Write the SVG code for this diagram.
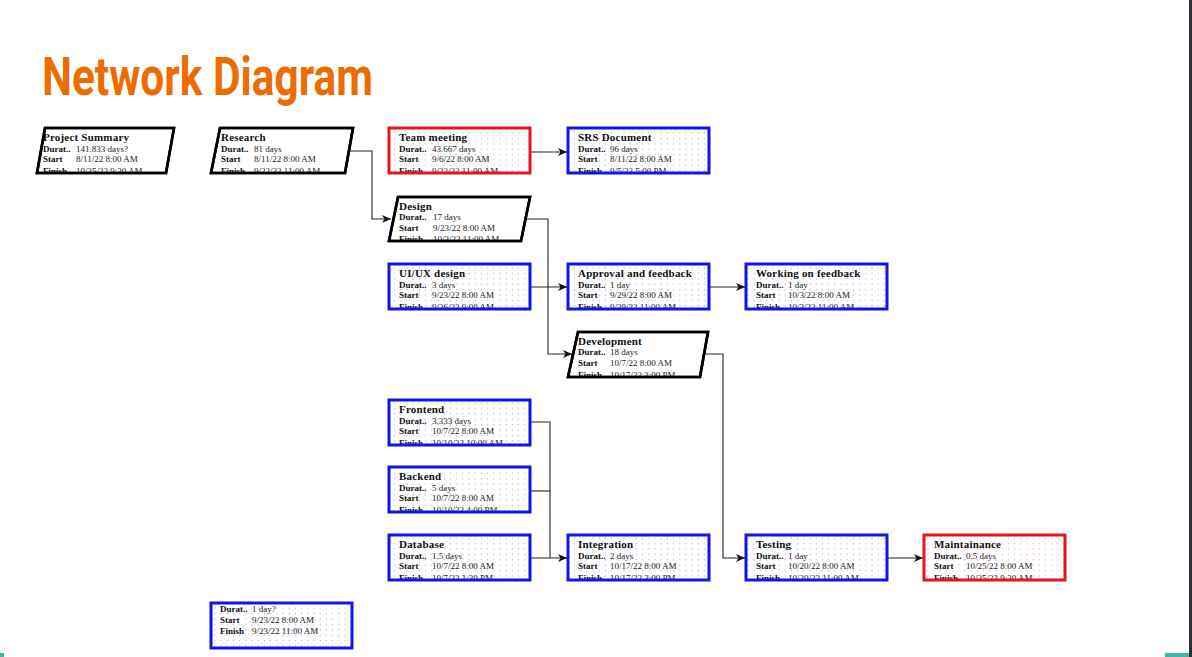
<svg xmlns="http://www.w3.org/2000/svg" width="1192" height="657" viewBox="0 0 1192 657">
<style>
.t{font-family:"Liberation Serif","Times New Roman",serif;font-size:11px;font-weight:bold;fill:#111;letter-spacing:0.2px}
.l{font-family:"Liberation Serif","Times New Roman",serif;font-size:9px;font-weight:bold;fill:#111}
.v{font-family:"Liberation Serif","Times New Roman",serif;font-size:9px;fill:#222}
.pg{fill:#fff;stroke:#000;stroke-width:2.6}
.rb{fill:url(#dotB);stroke:#1414e6;stroke-width:2.6}
.rr{fill:url(#dotR);stroke:#e5141e;stroke-width:2.6}
.c{fill:none;stroke:#222;stroke-width:1.1}
</style>
<defs>
<pattern id="dotB" x="1" y="1" width="6.2" height="5.4" patternUnits="userSpaceOnUse">
<rect width="6.2" height="5.4" fill="#fff"/><rect x="2.5" y="2" width="1" height="1" fill="#9a9acc"/>
</pattern>
<pattern id="dotR" x="1" y="1" width="6.2" height="5.4" patternUnits="userSpaceOnUse">
<rect width="6.2" height="5.4" fill="#fff"/><rect x="2.5" y="2" width="1" height="1" fill="#e59a9a"/>
</pattern>
<marker id="ar" markerWidth="10" markerHeight="10" refX="9" refY="5" orient="auto" markerUnits="userSpaceOnUse">
<path d="M0,1 L9,5 L0,9 L2.5,5 Z" fill="#111"/>
</marker>
</defs>
<rect width="1192" height="657" fill="#fff"/>
<rect x="1189" y="0" width="3" height="657" fill="#2e3033"/>
<rect x="0" y="653" width="4" height="4" fill="#45b3a6"/>
<rect x="1165" y="653" width="24" height="4" fill="#45b3a6"/>

<text x="42" y="95" font-family="Roboto,'Open Sans',sans-serif" font-weight="bold" font-size="53" fill="#ec6c00" textLength="331" lengthAdjust="spacingAndGlyphs">Network Diagram</text>

<g id="connectors">
<polyline class="c" points="345,151 372,151 372,219 391,219" marker-end="url(#ar)"/>
<line class="c" x1="530" y1="152" x2="567" y2="152" marker-end="url(#ar)"/>
<polyline class="c" points="521,219 548,219 548,354 572,354" marker-end="url(#ar)"/>
<line class="c" x1="530" y1="287" x2="567" y2="287" marker-end="url(#ar)"/>
<line class="c" x1="709" y1="287" x2="745" y2="287" marker-end="url(#ar)"/>
<polyline class="c" points="700,354 723,354 723,558 745,558" marker-end="url(#ar)"/>
<polyline class="c" points="530,422 550,422 550,558"/>
<line class="c" x1="530" y1="491" x2="550" y2="491"/>
<line class="c" x1="530" y1="558" x2="567" y2="558" marker-end="url(#ar)"/>
<line class="c" x1="887" y1="558" x2="923" y2="558" marker-end="url(#ar)"/>
</g>

<g id="project-summary">
<polygon class="pg" points="45,128 174,128 166,173 37,173"/>
<text class="t" x="43" y="141">Project Summary</text>
<text class="l" x="43" y="152">Durat..</text><text class="v" x="76" y="152">141.833 days?</text>
<text class="l" x="43" y="162">Start</text><text class="v" x="76" y="162">8/11/22 8:00 AM</text>
<text class="l" x="43" y="174">Finish</text><text class="v" x="76" y="174">10/25/22 9:30 AM</text>
<polygon points="45,128 174,128 166,173 37,173" fill="none" stroke="#000" stroke-width="2.6"/>
</g>

<g id="research">
<polygon class="pg" points="220,128 353,128 345,173 211,173"/>
<text class="t" x="221" y="141">Research</text>
<text class="l" x="221" y="152">Durat..</text><text class="v" x="254" y="152">81 days</text>
<text class="l" x="221" y="162">Start</text><text class="v" x="254" y="162">8/11/22 8:00 AM</text>
<text class="l" x="221" y="174">Finish</text><text class="v" x="254" y="174">9/22/22 11:00 AM</text>
<polygon points="220,128 353,128 345,173 211,173" fill="none" stroke="#000" stroke-width="2.6"/>
</g>

<g id="team-meeting">
<rect class="rr" x="389" y="128" width="141" height="45"/>
<text class="t" x="399" y="141">Team meeting</text>
<text class="l" x="399" y="152">Durat..</text><text class="v" x="432" y="152">43.667 days</text>
<text class="l" x="399" y="162">Start</text><text class="v" x="432" y="162">9/6/22 8:00 AM</text>
<text class="l" x="399" y="174">Finish</text><text class="v" x="432" y="174">9/22/22 11:00 AM</text>
<rect x="389" y="128" width="141" height="45" fill="none" stroke="#e5141e" stroke-width="2.6"/>
</g>

<g id="srs-document">
<rect class="rb" x="568" y="128" width="141" height="45"/>
<text class="t" x="578" y="141">SRS Document</text>
<text class="l" x="578" y="152">Durat..</text><text class="v" x="610" y="152">96 days</text>
<text class="l" x="578" y="162">Start</text><text class="v" x="610" y="162">8/11/22 8:00 AM</text>
<text class="l" x="578" y="174">Finish</text><text class="v" x="610" y="174">9/5/22 5:00 PM</text>
<rect x="568" y="128" width="141" height="45" fill="none" stroke="#1414e6" stroke-width="2.6"/>
</g>

<g id="design">
<polygon class="pg" points="398,197 530,197 521,241 389,241"/>
<text class="t" x="399" y="210">Design</text>
<text class="l" x="399" y="220">Durat..</text><text class="v" x="433" y="220">17 days</text>
<text class="l" x="399" y="231">Start</text><text class="v" x="433" y="231">9/23/22 8:00 AM</text>
<text class="l" x="399" y="242">Finish</text><text class="v" x="433" y="242">10/3/22 11:00 AM</text>
<polygon points="398,197 530,197 521,241 389,241" fill="none" stroke="#000" stroke-width="2.6"/>
</g>

<g id="uiux-design">
<rect class="rb" x="389" y="264" width="141" height="45"/>
<text class="t" x="399" y="277">UI/UX design</text>
<text class="l" x="399" y="288">Durat..</text><text class="v" x="432" y="288">3 days</text>
<text class="l" x="399" y="298">Start</text><text class="v" x="432" y="298">9/23/22 8:00 AM</text>
<text class="l" x="399" y="310">Finish</text><text class="v" x="432" y="310">9/26/22 9:00 AM</text>
<rect x="389" y="264" width="141" height="45" fill="none" stroke="#1414e6" stroke-width="2.6"/>
</g>

<g id="approval-feedback">
<rect class="rb" x="568" y="264" width="141" height="45"/>
<text class="t" x="578" y="277">Approval and feedback</text>
<text class="l" x="578" y="288">Durat..</text><text class="v" x="610" y="288">1 day</text>
<text class="l" x="578" y="298">Start</text><text class="v" x="610" y="298">9/29/22 8:00 AM</text>
<text class="l" x="578" y="310">Finish</text><text class="v" x="610" y="310">9/29/22 11:00 AM</text>
<rect x="568" y="264" width="141" height="45" fill="none" stroke="#1414e6" stroke-width="2.6"/>
</g>

<g id="working-feedback">
<rect class="rb" x="746" y="264" width="141" height="45"/>
<text class="t" x="756" y="277">Working on feedback</text>
<text class="l" x="756" y="288">Durat..</text><text class="v" x="788" y="288">1 day</text>
<text class="l" x="756" y="298">Start</text><text class="v" x="788" y="298">10/3/22 8:00 AM</text>
<text class="l" x="756" y="310">Finish</text><text class="v" x="788" y="310">10/3/22 11:00 AM</text>
<rect x="746" y="264" width="141" height="45" fill="none" stroke="#1414e6" stroke-width="2.6"/>
</g>

<g id="development">
<polygon class="pg" points="578,332 708,332 700,377 568,377"/>
<text class="t" x="578" y="345">Development</text>
<text class="l" x="578" y="355">Durat..</text><text class="v" x="610" y="355">18 days</text>
<text class="l" x="578" y="366">Start</text><text class="v" x="610" y="366">10/7/22 8:00 AM</text>
<text class="l" x="578" y="378">Finish</text><text class="v" x="610" y="378">10/17/22 3:00 PM</text>
<polygon points="578,332 708,332 700,377 568,377" fill="none" stroke="#000" stroke-width="2.6"/>
</g>

<g id="frontend">
<rect class="rb" x="389" y="400" width="141" height="45"/>
<text class="t" x="399" y="413">Frontend</text>
<text class="l" x="399" y="424">Durat..</text><text class="v" x="432" y="424">3.333 days</text>
<text class="l" x="399" y="434">Start</text><text class="v" x="432" y="434">10/7/22 8:00 AM</text>
<text class="l" x="399" y="446">Finish</text><text class="v" x="432" y="446">10/10/22 10:00 AM</text>
<rect x="389" y="400" width="141" height="45" fill="none" stroke="#1414e6" stroke-width="2.6"/>
</g>

<g id="backend">
<rect class="rb" x="389" y="467" width="141" height="45"/>
<text class="t" x="399" y="480">Backend</text>
<text class="l" x="399" y="491">Durat..</text><text class="v" x="432" y="491">5 days</text>
<text class="l" x="399" y="501">Start</text><text class="v" x="432" y="501">10/7/22 8:00 AM</text>
<text class="l" x="399" y="513">Finish</text><text class="v" x="432" y="513">10/10/22 4:00 PM</text>
<rect x="389" y="467" width="141" height="45" fill="none" stroke="#1414e6" stroke-width="2.6"/>
</g>

<g id="database">
<rect class="rb" x="389" y="535" width="141" height="45"/>
<text class="t" x="399" y="548">Database</text>
<text class="l" x="399" y="559">Durat..</text><text class="v" x="432" y="559">1.5 days</text>
<text class="l" x="399" y="569">Start</text><text class="v" x="432" y="569">10/7/22 8:00 AM</text>
<text class="l" x="399" y="581">Finish</text><text class="v" x="432" y="581">10/7/22 1:30 PM</text>
<rect x="389" y="535" width="141" height="45" fill="none" stroke="#1414e6" stroke-width="2.6"/>
</g>

<g id="integration">
<rect class="rb" x="568" y="535" width="141" height="45"/>
<text class="t" x="578" y="548">Integration</text>
<text class="l" x="578" y="559">Durat..</text><text class="v" x="610" y="559">2 days</text>
<text class="l" x="578" y="569">Start</text><text class="v" x="610" y="569">10/17/22 8:00 AM</text>
<text class="l" x="578" y="581">Finish</text><text class="v" x="610" y="581">10/17/22 3:00 PM</text>
<rect x="568" y="535" width="141" height="45" fill="none" stroke="#1414e6" stroke-width="2.6"/>
</g>

<g id="testing">
<rect class="rb" x="746" y="535" width="141" height="45"/>
<text class="t" x="756" y="548">Testing</text>
<text class="l" x="756" y="559">Durat..</text><text class="v" x="788" y="559">1 day</text>
<text class="l" x="756" y="569">Start</text><text class="v" x="788" y="569">10/20/22 8:00 AM</text>
<text class="l" x="756" y="581">Finish</text><text class="v" x="788" y="581">10/20/22 11:00 AM</text>
<rect x="746" y="535" width="141" height="45" fill="none" stroke="#1414e6" stroke-width="2.6"/>
</g>

<g id="maintainance">
<rect class="rr" x="924" y="535" width="141" height="45"/>
<text class="t" x="934" y="548">Maintainance</text>
<text class="l" x="934" y="559">Durat..</text><text class="v" x="966" y="559">0.5 days</text>
<text class="l" x="934" y="569">Start</text><text class="v" x="966" y="569">10/25/22 8:00 AM</text>
<text class="l" x="934" y="581">Finish</text><text class="v" x="966" y="581">10/25/22 9:30 AM</text>
<rect x="924" y="535" width="141" height="45" fill="none" stroke="#e5141e" stroke-width="2.6"/>
</g>

<g id="legend-box">
<rect class="rb" x="211" y="603" width="141" height="45"/>
<text class="l" x="220" y="612">Durat..</text><text class="v" x="252" y="612">1 day?</text>
<text class="l" x="220" y="623">Start</text><text class="v" x="252" y="623">9/23/22 8:00 AM</text>
<text class="l" x="220" y="634">Finish</text><text class="v" x="252" y="634">9/23/22 11:00 AM</text>
<rect x="211" y="603" width="141" height="45" fill="none" stroke="#1414e6" stroke-width="2.6"/>
</g>
</svg>
